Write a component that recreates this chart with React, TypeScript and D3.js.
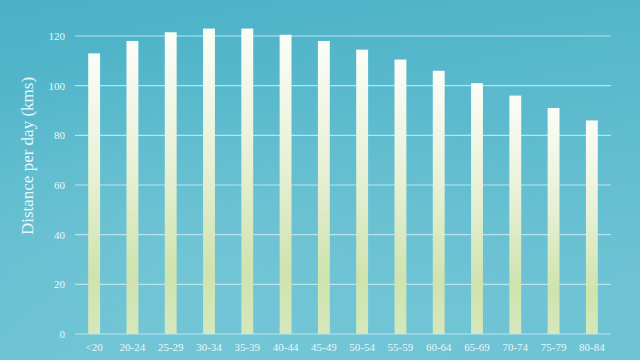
import React from "react";
import * as d3 from "d3";

const categories = ["<20","20-24","25-29","30-34","35-39","40-44","45-49","50-54","55-59","60-64","65-69","70-74","75-79","80-84"];
const values = [113, 118, 121.5, 123, 123, 120.5, 118, 114.5, 110.5, 106, 101, 96, 91, 86];
const yTicks = [0, 20, 40, 60, 80, 100, 120];
const yLabel = "Distance per day (kms)";

const W = 640, H = 360;
const left = 75, right = 611, top = 36, bottom = 334;

export default function App() {
  const x = d3.scaleBand<string>().domain(categories).range([left, right]).paddingInner(0.69).paddingOuter(0.345);
  const y = d3.scaleLinear().domain([0, 120]).range([bottom, top]);
  const font = "'Liberation Serif', 'DejaVu Serif', serif";
  return (
    <svg width={W} height={H} style={{ position: "absolute", left: 0, top: 0 }}>
      <defs>
        <linearGradient id="bg" x1="0" y1="0" x2="0.3" y2="1">
          <stop offset="0" stopColor="#4ab1c7" />
          <stop offset="1" stopColor="#6ec3d4" />
        </linearGradient>
        <radialGradient id="glow" cx="0.3" cy="0.75" r="0.6">
          <stop offset="0" stopColor="#7ccbd9" stopOpacity="0.5" />
          <stop offset="1" stopColor="#7ccbd9" stopOpacity="0" />
        </radialGradient>
        <linearGradient id="bar" x1="0" y1="0" x2="0" y2="1">
          <stop offset="0" stopColor="#fbfdf8" />
          <stop offset="0.45" stopColor="#e6f0d4" />
          <stop offset="0.8" stopColor="#cfe3ae" />
          <stop offset="1" stopColor="#d6e8bc" />
        </linearGradient>
      </defs>
      <rect x={0} y={0} width={W} height={H} fill="url(#bg)" />
      <rect x={0} y={0} width={W} height={H} fill="url(#glow)" />
      {yTicks.map(t => (
        <g key={t}>
          <line x1={left} x2={right} y1={y(t)} y2={y(t)} stroke="#b9e4ee" strokeWidth={1.2} />
          <text x={65} y={y(t)} dy="0.35em" textAnchor="end" fill="#eaf7fa" fontFamily={font} fontSize={11}>{t}</text>
        </g>
      ))}
      {categories.map((c, i) => (
        <rect key={c} x={x(c)} y={y(values[i])} width={x.bandwidth()} height={y(0) - y(values[i])} fill="url(#bar)" />
      ))}
      {categories.map(c => (
        <text key={c} x={(x(c) as number) + x.bandwidth() / 2} y={351} textAnchor="middle" fill="#eaf7fa" fontFamily={font} fontSize={11}>{c}</text>
      ))}
      <text transform={`translate(33,156) rotate(-90)`} textAnchor="middle" fill="#eaf7fa" fontFamily={font} fontSize={17}>{yLabel}</text>
    </svg>
  );
}
